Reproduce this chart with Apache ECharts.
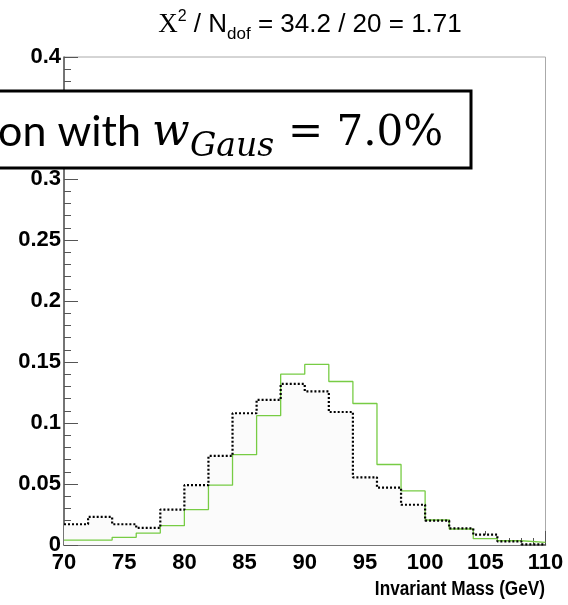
<!DOCTYPE html>
<html>
<head>
<meta charset="utf-8">
<script src="https://cdn.jsdelivr.net/npm/echarts@6/dist/echarts.min.js"></script>
<style>html,body{margin:0;padding:0;background:#fff;}#c{width:568px;height:605px;}</style>
</head>
<body>
<div id="c"></div>
<script>
// Bin edges (GeV)
const binEdges = [70,72,74,76,78,80,82,84,86,88,90,92,94,96,98,100,102,104,106,108,110];
// Black dotted histogram
const dottedVals = [0.017,0.023,0.017,0.014,0.029,0.049,0.073,0.108,0.119,0.132,0.126,0.109,0.0555,0.047,0.033,0.020,0.0137,0.0085,0.003,0.0005];
// Green solid histogram
const greenVals = [0.004,0.004,0.0063,0.0098,0.0158,0.029,0.049,0.074,0.106,0.140,0.148,0.134,0.116,0.066,0.0443,0.0205,0.0131,0.0052,0.0035,0.0022];
const xTicks = [70,75,80,85,90,95,100,105,110];
const yTicks = [0,0.05,0.1,0.15,0.2,0.25,0.3,0.35,0.4];

function toSteps(vals){
  return binEdges.map((e,i)=>[e, vals[Math.min(i, vals.length-1)]]);
}

const chart = echarts.init(document.getElementById('c'), null, {renderer:'canvas'});
const axisCol = '#555';
const labelFont = {fontFamily:'Liberation Sans', fontWeight:'bold', fontSize:22, color:'#000'};

chart.setOption({
  animation:false,
  backgroundColor:'#fff',
  title:{
    left:305, top:2, textAlign:'center',
    text:'{x|X}{sup|2}{a| / N}{sub|dof}{a| = 34.2 / 20 = 1.71}',
    textStyle:{
      fontWeight:'normal',
      rich:{
        x:{fontFamily:'Liberation Serif', fontSize:27, fontWeight:'normal', color:'#000', lineHeight:36, verticalAlign:'middle'},
        sup:{fontFamily:'Liberation Sans', fontSize:16, fontWeight:'normal', color:'#000', lineHeight:36, verticalAlign:'top', padding:[2,0,0,0]},
        a:{fontFamily:'Liberation Sans', fontSize:26, fontWeight:'normal', color:'#000', lineHeight:36, verticalAlign:'middle'},
        sub:{fontFamily:'Liberation Sans', fontSize:17, fontWeight:'normal', color:'#000', lineHeight:36, verticalAlign:'bottom'}
      }
    }
  },
  grid:{left:64, top:57, width:481.5, height:488, show:true, borderColor:'#aaa', borderWidth:1, backgroundColor:'transparent'},
  xAxis:{
    type:'value', min:70, max:110, interval:5,
    axisLine:{show:true, onZero:false, lineStyle:{color:axisCol, width:1.5}},
    axisTick:{show:true, inside:true, length:14, lineStyle:{color:axisCol}},
    minorTick:{show:true, splitNumber:5, length:7, lineStyle:{color:axisCol}},
    splitLine:{show:false},
    axisLabel:Object.assign({margin:7}, labelFont)
  },
  yAxis:{
    type:'value', min:0, max:0.4, interval:0.05,
    axisLine:{show:true, onZero:false, lineStyle:{color:axisCol, width:1.5}},
    axisTick:{show:true, inside:true, length:14, lineStyle:{color:axisCol}},
    minorTick:{show:true, splitNumber:5, length:7, lineStyle:{color:axisCol}},
    splitLine:{show:false},
    axisLabel:Object.assign({margin:3}, labelFont)
  },
  series:[
    {type:'line', step:'end', data:toSteps(dottedVals), symbol:'none', silent:true,
     lineStyle:{width:0, opacity:0}, areaStyle:{color:'#fbfbfb', opacity:1}, z:1},
    {type:'line', step:'end', data:toSteps(greenVals), symbol:'none',
     lineStyle:{color:'#77cc44', width:1.3}, z:3},
    {type:'line', step:'end', data:toSteps(dottedVals), symbol:'none',
     lineStyle:{color:'#000', width:2.2, type:[2,2]}, z:4}
  ],
  graphic:[
    {type:'rect', shape:{x:-10, y:91, width:481, height:77}, style:{fill:'#fff', stroke:'#000', lineWidth:3}, z:100},
    {type:'text', x:-2, y:132, style:{text:'on with', font:'43px Lato', fill:'#000', textVerticalAlign:'middle'}, z:101},
    {type:'text', x:152, y:134, style:{text:'w', font:'italic 44px "DejaVu Serif"', fill:'#000', textVerticalAlign:'middle'}, z:101},
    {type:'text', x:190, y:147, style:{text:'Gaus', font:'italic 33px "DejaVu Serif"', fill:'#000', textVerticalAlign:'middle'}, z:101},
    {type:'text', x:288, y:134, style:{text:'= 7.0%', font:'42px "DejaVu Serif"', fill:'#000', textVerticalAlign:'middle'}, z:101},
    {type:'text', x:545, y:589, scaleX:0.86, style:{text:'Invariant Mass (GeV)', font:'bold 20px "Liberation Sans"', fill:'#000', textAlign:'right', textVerticalAlign:'middle'}, z:101}
  ]
});
</script>
</body>
</html>
